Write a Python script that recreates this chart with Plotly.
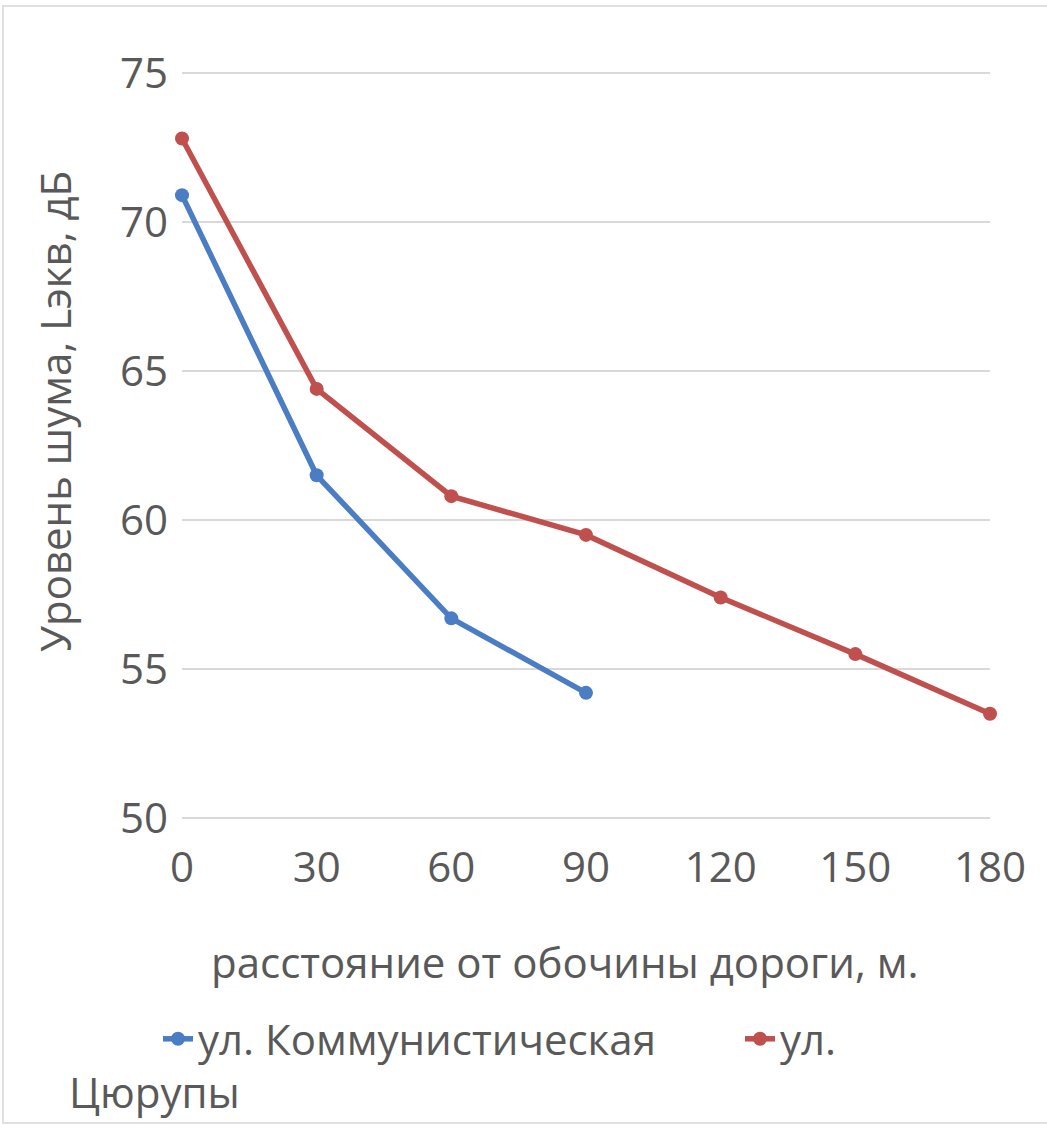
import plotly.graph_objects as go

distance_blue = [0, 30, 60, 90]
noise_blue = [70.9, 61.5, 56.7, 54.2]
distance_red = [0, 30, 60, 90, 120, 150, 180]
noise_red = [72.8, 64.4, 60.8, 59.5, 57.4, 55.5, 53.5]
x_ticks = [0, 30, 60, 90, 120, 150, 180]
y_ticks = [50, 55, 60, 65, 70, 75]
name_blue = "ул. Коммунистическая"
name_red_1 = "ул."
name_red_2 = "Цюрупы"
x_title = "расстояние от обочины дороги, м."
y_title = "Уровень шума, Lэкв, дБ"

BLUE = "#4A7DC3"
RED = "#C0504D"
TXT = "#595959"
FONT = "Open Sans"
FS = 42

W, H = 1047, 1128
L, R, T, B = 182, 57, 70, 307
PW, PH = W - L - R, H - T - B


def px(x):
    return (x - L) / PW


def py(y):
    return (H - B - y) / PH


fig = go.Figure()
fig.add_trace(go.Scatter(x=distance_blue, y=noise_blue, mode="lines+markers", name=name_blue,
                         line=dict(color=BLUE, width=5.5), marker=dict(color=BLUE, size=14),
                         cliponaxis=False, legend="legend"))
fig.add_trace(go.Scatter(x=distance_red, y=noise_red, mode="lines+markers", name=name_red_1,
                         line=dict(color=RED, width=5.5), marker=dict(color=RED, size=14),
                         cliponaxis=False, legend="legend2"))

legend_common = dict(orientation="h", xanchor="left", yanchor="middle",
                     font=dict(family=FONT, size=FS, color=TXT),
                     itemwidth=30, bgcolor="rgba(0,0,0,0)", borderwidth=0)

fig.update_layout(
    width=W, height=H,
    margin=dict(l=L, r=R, t=T, b=B),
    paper_bgcolor="white", plot_bgcolor="white",
    font=dict(family=FONT, size=FS, color=TXT),
    showlegend=True,
    legend=dict(x=px(158), y=py(1039), **legend_common),
    legend2=dict(x=px(740), y=py(1039), **legend_common),
    xaxis=dict(range=[0, 180], tickvals=x_ticks, showgrid=False, zeroline=False,
               showline=False, ticks="", ticklabelstandoff=18,
               tickfont=dict(family=FONT, size=FS, color=TXT)),
    yaxis=dict(range=[49.9, 75.1], tickvals=y_ticks, showgrid=True, gridcolor="#D9D9D9",
               gridwidth=2, zeroline=False, showline=False, ticks="", ticklabelstandoff=13,
               tickfont=dict(family=FONT, size=FS, color=TXT)),
)

fig.add_annotation(text=x_title, xref="paper", yref="paper",
                   x=px(565), y=py(961),
                   showarrow=False, font=dict(family=FONT, size=FS, color=TXT),
                   xanchor="center", yanchor="middle")
fig.add_annotation(text=y_title, xref="paper", yref="paper",
                   x=px(54), y=py(412),
                   showarrow=False, textangle=-90, font=dict(family=FONT, size=FS, color=TXT),
                   xanchor="center", yanchor="middle")
fig.add_annotation(text=name_red_2, xref="paper", yref="paper",
                   x=px(67), y=py(1091),
                   showarrow=False, font=dict(family=FONT, size=FS, color=TXT),
                   xanchor="left", yanchor="middle")

fig.add_shape(type="rect", xref="paper", yref="paper",
              x0=px(3), x1=px(W + 30),
              y0=py(1123), y1=py(6),
              line=dict(color="#E0E0E0", width=2), fillcolor="rgba(0,0,0,0)", layer="below")

fig.write_html("out.html", config={"displayModeBar": False},
               post_script="document.body.style.margin='0';document.body.style.overflow='hidden';")
